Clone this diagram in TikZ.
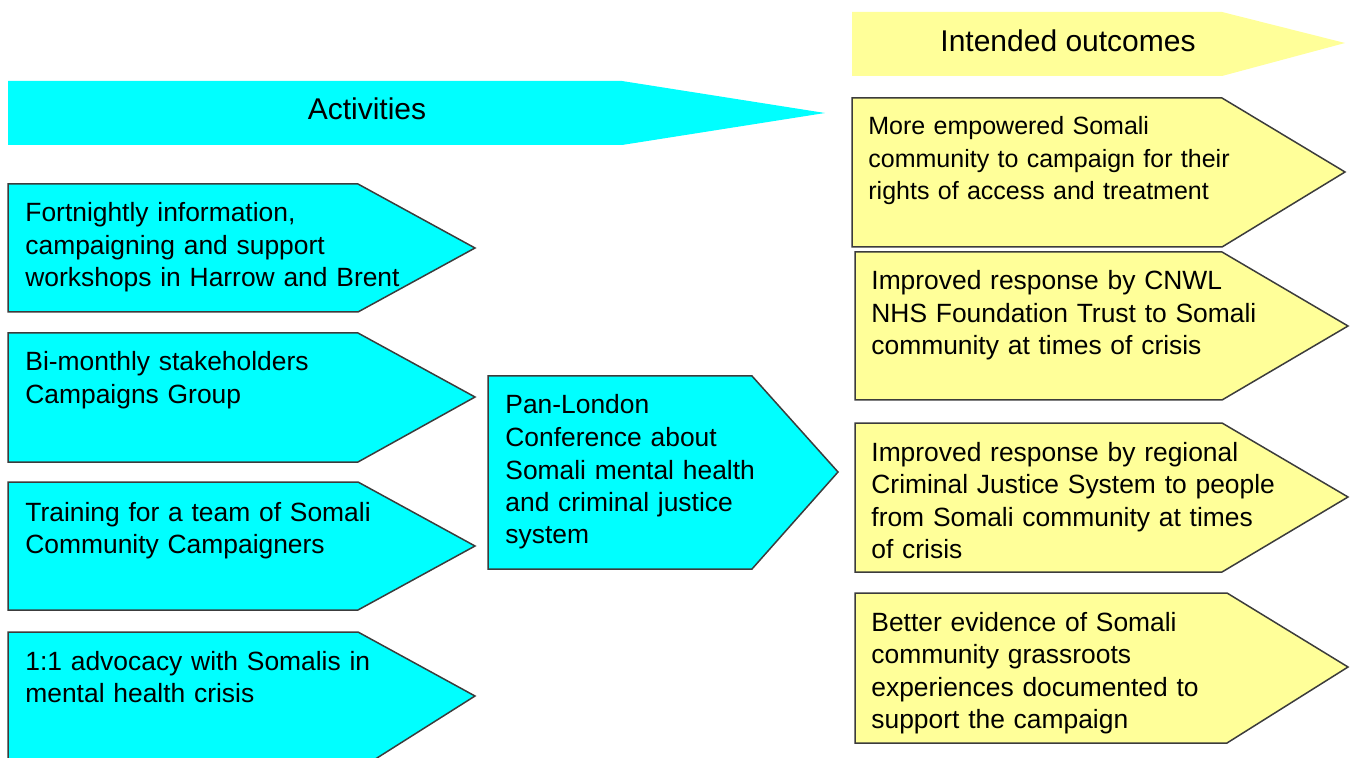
\documentclass[tikz,border=0pt]{standalone}
\usepackage{fontspec}
\setmainfont{Liberation Sans}
\definecolor{acyan}{HTML}{00FFFF}
\definecolor{oyel}{HTML}{FFFF99}
\definecolor{edgegray}{HTML}{3C3C3C}
\begin{document}
\begin{tikzpicture}[x=0.5pt,y=-0.5pt,
  actshape/.style={fill=acyan,draw=edgegray,line width=0.75pt,line join=miter},
  outshape/.style={fill=oyel,draw=edgegray,line width=0.75pt,line join=miter},
  txt/.style={anchor=base west,inner sep=0pt,align=left,text width=#1,
    font=\fontsize{13.2}{16.25}\selectfont},
  txt/.default=200pt,
  arialtxt/.style={txt=230pt,font=\fontsize{12.5}{16.25}\selectfont},
  title/.style={anchor=base,inner sep=0pt,font=\fontsize{15}{18}\selectfont}]
\clip (0,0) rectangle (1352,758);
\useasboundingbox (0,0) rectangle (1352,758);
% banners
\fill[acyan] (8,81) -- (622,81) -- (825,113) -- (622,145) -- (8,145) -- cycle;
\node[title] (acttitle) at (367,120) {Activities};
\fill[oyel] (852,12) -- (1222,12) -- (1345,43) -- (1222,76) -- (852,76) -- cycle;
\node[title] (outtitle) at (1068,52) {Intended outcomes};
% activity boxes
\draw[actshape] (8,184) -- (358,184) -- (475,248) -- (358,312) -- (8,312) -- cycle;
\node[txt] (a1) at (25,222) {Fortnightly information,\\campaigning and support\\workshops in Harrow and Brent};
\draw[actshape] (8,333) -- (358,333) -- (475,397) -- (358,462) -- (8,462) -- cycle;
\node[txt] (a2) at (25,371) {Bi-monthly stakeholders\\Campaigns Group};
\draw[actshape] (8,482) -- (358,482) -- (475,546) -- (358,610) -- (8,610) -- cycle;
\node[txt] (a3) at (25,521) {Training for a team of Somali\\Community Campaigners};
\draw[actshape] (8,632) -- (358,632) -- (475,696) -- (358,770) -- (8,770) -- cycle;
\node[txt] (a4) at (25,670) {1:1 advocacy with Somalis in\\mental health crisis};
% middle box
\draw[actshape] (488,376) -- (752,376) -- (838,472) -- (752,569) -- (488,569) -- cycle;
\node[txt] (mid) at (505,414) {Pan-London\\Conference about\\Somali mental health\\and criminal justice\\system};
% outcome boxes
\draw[outshape] (852,98) -- (1222,98) -- (1345,172) -- (1222,247) -- (852,247) -- cycle;
\node[arialtxt] (o1) at (868,135) {More empowered Somali\\community to campaign for their\\rights of access and treatment};
\draw[outshape] (855,252) -- (1222,252) -- (1348,326) -- (1222,400) -- (855,400) -- cycle;
\node[txt=230pt] (o2) at (871,290) {Improved response by CNWL\\NHS Foundation Trust to Somali\\community at times of crisis};
\draw[outshape] (855,423) -- (1222,423) -- (1348,497) -- (1222,572) -- (855,572) -- cycle;
\node[txt=230pt] (o3) at (871,461) {Improved response by regional\\Criminal Justice System to people\\from Somali community at times\\of crisis};
\draw[outshape] (855,593) -- (1227,593) -- (1348,667) -- (1227,743) -- (855,743) -- cycle;
\node[txt=230pt] (o4) at (871,631) {Better evidence of Somali\\community grassroots\\experiences documented to\\support the campaign};
\end{tikzpicture}
\end{document}
